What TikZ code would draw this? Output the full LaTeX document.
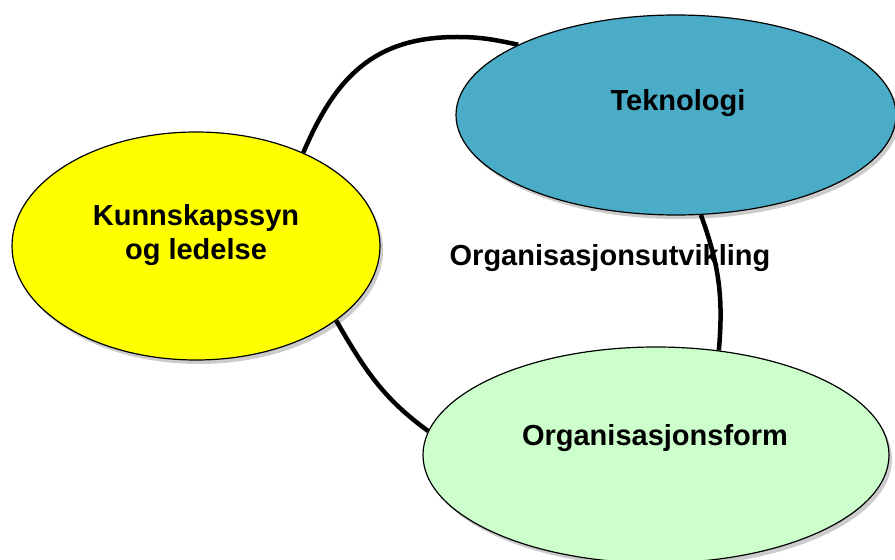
\documentclass[tikz,border=0pt]{standalone}
\usepackage{fontspec}
\setmainfont{Liberation Sans}
\usetikzlibrary{shapes.geometric,shadows,backgrounds}
\definecolor{yel}{HTML}{FFFF00}
\definecolor{tek}{HTML}{4AACC6}
\definecolor{grn}{HTML}{CCFFCC}
\tikzset{
  bubble/.style={ellipse, draw=black, line width=1.2pt, inner sep=0pt,
    drop shadow={shadow xshift=3pt, shadow yshift=-4pt, opacity=0.2, fill=black}},
  lbl/.style={font=\fontsize{29}{34}\selectfont\bfseries, align=center, inner sep=0pt},
  link/.style={line width=4.5pt, black}
}
\begin{document}
\begin{tikzpicture}[x=1pt,y=1pt]
\useasboundingbox (0,0) rectangle (895,560);
\node[bubble, fill=yel, minimum width=368pt, minimum height=228pt] (yel) at (196,314) {};
\node[bubble, fill=tek, minimum width=440pt, minimum height=200pt] (blu) at (676,445) {};
\node[bubble, fill=grn, minimum width=466pt, minimum height=216pt] (grn) at (656,105) {};
\node[lbl] (tyel) at (196,325) {Kunnskapssyn\\og ledelse};
\node[lbl] (tblu) at (678,457) {Teknologi};
\node[lbl] (tgrn) at (655,122) {Organisasjonsform};
\coordinate (ptop) at (457,523);
\begin{scope}[on background layer]
  \node[lbl] (tmid) at (610,302) {Organisasjonsutvikling};
  \draw[link] (yel.41) to[out=67,in=180,looseness=1.1] (ptop) to[out=0,in=168] (blu.156);
  \draw[link] (blu.-76) to[out=-70,in=85] (grn.59.5);
  \draw[link] (yel.-28.5) to[out=-60,in=144] (grn.174.2);
\end{scope}
\end{tikzpicture}
\end{document}
